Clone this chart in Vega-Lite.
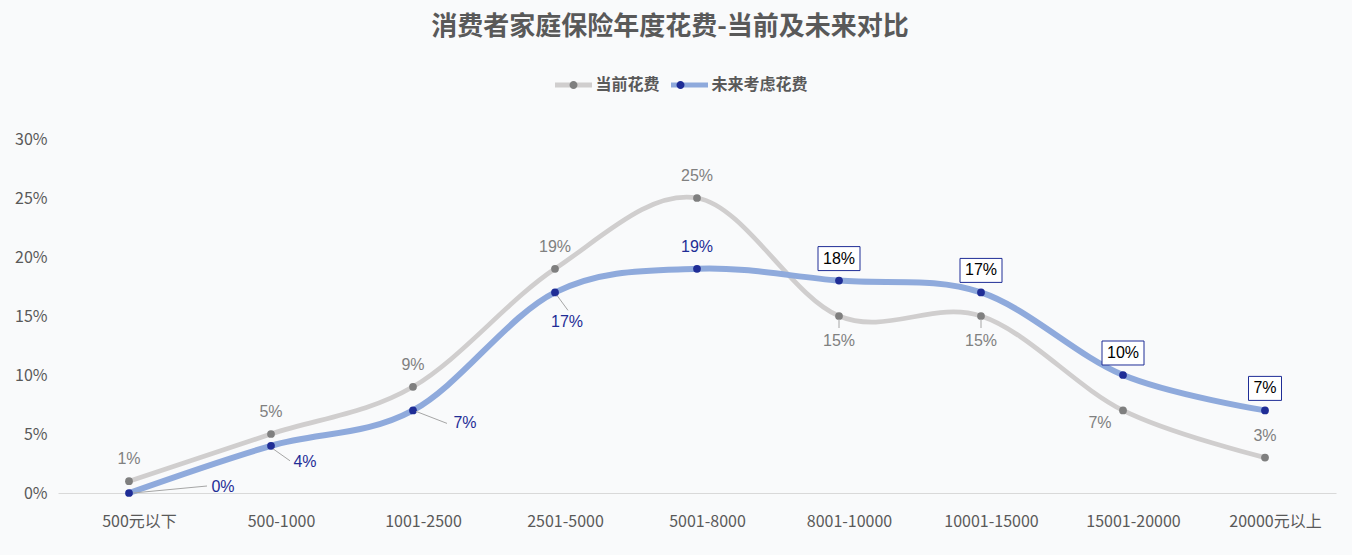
{
  "$schema": "https://vega.github.io/schema/vega-lite/v6.json",
  "width": 1278,
  "height": 354,
  "autosize": {"type": "none"},
  "padding": {"left": 58, "top": 139, "right": 16, "bottom": 62},
  "background": "#f9fafb",
  "title": {
    "text": "消费者家庭保险年度花费-当前及未来对比",
    "font": "Noto Sans CJK SC",
    "fontSize": 26,
    "fontWeight": "bold",
    "color": "#595959",
    "anchor": "middle",
    "dx": -27,
    "offset": 24
  },
  "config": {"view": {"stroke": null}, "font": "Noto Sans CJK SC"},
  "data": {
    "values": [
      {"cat": "500元以下", "series": "当前花费", "value": 0.01},
      {"cat": "500元以下", "series": "未来考虑花费", "value": 0.0},
      {"cat": "500-1000", "series": "当前花费", "value": 0.05},
      {"cat": "500-1000", "series": "未来考虑花费", "value": 0.04},
      {"cat": "1001-2500", "series": "当前花费", "value": 0.09},
      {"cat": "1001-2500", "series": "未来考虑花费", "value": 0.07},
      {"cat": "2501-5000", "series": "当前花费", "value": 0.19},
      {"cat": "2501-5000", "series": "未来考虑花费", "value": 0.17},
      {"cat": "5001-8000", "series": "当前花费", "value": 0.25},
      {"cat": "5001-8000", "series": "未来考虑花费", "value": 0.19},
      {"cat": "8001-10000", "series": "当前花费", "value": 0.15},
      {"cat": "8001-10000", "series": "未来考虑花费", "value": 0.18},
      {"cat": "10001-15000", "series": "当前花费", "value": 0.15},
      {"cat": "10001-15000", "series": "未来考虑花费", "value": 0.17},
      {"cat": "15001-20000", "series": "当前花费", "value": 0.07},
      {"cat": "15001-20000", "series": "未来考虑花费", "value": 0.10},
      {"cat": "20000元以上", "series": "当前花费", "value": 0.03},
      {"cat": "20000元以上", "series": "未来考虑花费", "value": 0.07}
    ]
  },
  "encoding": {
    "x": {
      "field": "cat",
      "type": "ordinal",
      "sort": null,
      "scale": {"type": "point", "padding": 0.5},
      "axis": {
        "title": null,
        "labelAngle": 0,
        "domainColor": "#d9d9d9",
        "domainWidth": 1,
        "ticks": false,
        "grid": false,
        "labelFontSize": 16,
        "labelColor": "#595959",
        "labelPadding": 20,
        "labelOffset": 10,
        "labelFont": "Noto Sans CJK SC"
      }
    },
    "y": {
      "field": "value",
      "type": "quantitative",
      "scale": {"domain": [0, 0.3], "nice": false},
      "axis": {
        "title": null,
        "values": [0, 0.05, 0.1, 0.15, 0.2, 0.25, 0.3],
        "format": ".0%",
        "domain": false,
        "ticks": false,
        "grid": false,
        "labelFontSize": 16,
        "labelColor": "#595959",
        "labelPadding": 11,
        "labelFont": "Noto Sans CJK SC"
      }
    }
  },
  "layer": [
    {
      "transform": [{"filter": {"field": "series", "equal": "当前花费"}}],
      "mark": {"type": "line", "interpolate": "cardinal", "strokeWidth": 4.7},
      "encoding": {
        "stroke": {
          "field": "series",
          "type": "nominal",
          "scale": {"range": ["#d0cece", "#8faadc"]},
          "legend": {
            "orient": "none",
            "legendX": 494.5,
            "legendY": -75,
            "direction": "horizontal",
            "title": null,
            "symbolType": "stroke",
            "symbolSize": 1369,
            "symbolStrokeWidth": 5,
            "labelFontSize": 16,
            "labelFontWeight": "bold",
            "labelColor": "#595959",
            "labelFont": "Noto Sans CJK SC",
            "labelOffset": 1,
            "columnPadding": 0
          }
        }
      }
    },
    {
      "transform": [{"filter": {"field": "series", "equal": "未来考虑花费"}}],
      "mark": {"type": "line", "interpolate": "cardinal", "strokeWidth": 6},
      "encoding": {
        "stroke": {"field": "series", "type": "nominal"}
      }
    },
    {
      "mark": {"type": "point", "filled": true, "size": 60, "opacity": 1},
      "encoding": {
        "fill": {
          "field": "series",
          "type": "nominal",
          "scale": {"domain": ["当前花费", "未来考虑花费"], "range": ["#7f7f7f", "#1f2d96"]},
          "legend": {
            "orient": "none",
            "legendX": 494.5,
            "legendY": -75,
            "direction": "horizontal",
            "title": null,
            "symbolType": "M-0.216,0 A0.216,0.216 0 1,1 0.216,0 A0.216,0.216 0 1,1 -0.216,0 Z",
            "symbolSize": 1369,
            "symbolStrokeWidth": 5,
            "symbolStrokeColor": "transparent",
            "labelExpr": "''",
            "labelFontSize": 16,
            "labelFontWeight": "bold",
            "labelColor": "#595959",
            "labelFont": "Noto Sans CJK SC",
            "labelOffset": 1,
            "columnPadding": 64
          }
        }
      }
    },
    {
      "transform": [{"filter": {"and": [{"field": "series", "equal": "当前花费"}, {"field": "cat", "oneOf": ["500元以下", "500-1000", "1001-2500", "2501-5000", "5001-8000", "20000元以上"]}]}}],
      "mark": {"type": "text", "dy": -22, "baseline": "middle", "align": "center", "font": "Liberation Sans", "fontSize": 16, "color": "#808080"},
      "encoding": {"text": {"field": "value", "format": ".0%"}}
    },
    {
      "transform": [{"filter": {"and": [{"field": "series", "equal": "当前花费"}, {"field": "cat", "oneOf": ["8001-10000", "10001-15000"]}]}}],
      "mark": {"type": "text", "dy": 25, "baseline": "middle", "align": "center", "font": "Liberation Sans", "fontSize": 16, "color": "#808080"},
      "encoding": {"text": {"field": "value", "format": ".0%"}}
    },
    {
      "transform": [{"filter": {"and": [{"field": "series", "equal": "当前花费"}, {"field": "cat", "oneOf": ["8001-10000", "10001-15000"]}]}}],
      "mark": {"type": "rule", "color": "#a6a6a6", "strokeWidth": 1, "yOffset": 4, "y2Offset": 12},
      "encoding": {"x2": {"field": "cat"}, "y2": {"field": "value"}}
    },
    {
      "transform": [{"filter": {"and": [{"field": "series", "equal": "当前花费"}, {"field": "cat", "equal": "15001-20000"}]}}],
      "mark": {"type": "text", "dx": -23, "dy": 13, "baseline": "middle", "align": "center", "font": "Liberation Sans", "fontSize": 16, "color": "#808080"},
      "encoding": {"text": {"field": "value", "format": ".0%"}}
    },
    {
      "transform": [{"filter": {"and": [{"field": "series", "equal": "未来考虑花费"}, {"field": "cat", "equal": "5001-8000"}]}}],
      "mark": {"type": "text", "dy": -22, "baseline": "middle", "align": "center", "font": "Liberation Sans", "fontSize": 16, "color": "#1f2d96"},
      "encoding": {"text": {"field": "value", "format": ".0%"}}
    },
    {
      "transform": [{"filter": {"and": [{"field": "series", "equal": "未来考虑花费"}, {"field": "cat", "equal": "500元以下"}]}}],
      "mark": {"type": "rule", "color": "#a6a6a6", "strokeWidth": 1, "xOffset": 4, "x2Offset": 78, "yOffset": 0, "y2Offset": -7},
      "encoding": {"x2": {"field": "cat"}, "y2": {"field": "value"}}
    },
    {
      "transform": [{"filter": {"and": [{"field": "series", "equal": "未来考虑花费"}, {"field": "cat", "equal": "500元以下"}]}}],
      "mark": {"type": "text", "dx": 94, "dy": -6, "baseline": "middle", "align": "center", "font": "Liberation Sans", "fontSize": 16, "color": "#1f2d96"},
      "encoding": {"text": {"field": "value", "format": ".0%"}}
    },
    {
      "transform": [{"filter": {"and": [{"field": "series", "equal": "未来考虑花费"}, {"field": "cat", "equal": "500-1000"}]}}],
      "mark": {"type": "rule", "color": "#a6a6a6", "strokeWidth": 1, "xOffset": 2, "x2Offset": 19, "yOffset": 3, "y2Offset": 15},
      "encoding": {"x2": {"field": "cat"}, "y2": {"field": "value"}}
    },
    {
      "transform": [{"filter": {"and": [{"field": "series", "equal": "未来考虑花费"}, {"field": "cat", "equal": "500-1000"}]}}],
      "mark": {"type": "text", "dx": 34, "dy": 16, "baseline": "middle", "align": "center", "font": "Liberation Sans", "fontSize": 16, "color": "#1f2d96"},
      "encoding": {"text": {"field": "value", "format": ".0%"}}
    },
    {
      "transform": [{"filter": {"and": [{"field": "series", "equal": "未来考虑花费"}, {"field": "cat", "equal": "1001-2500"}]}}],
      "mark": {"type": "rule", "color": "#a6a6a6", "strokeWidth": 1, "xOffset": 3, "x2Offset": 34, "yOffset": 1, "y2Offset": 13},
      "encoding": {"x2": {"field": "cat"}, "y2": {"field": "value"}}
    },
    {
      "transform": [{"filter": {"and": [{"field": "series", "equal": "未来考虑花费"}, {"field": "cat", "equal": "1001-2500"}]}}],
      "mark": {"type": "text", "dx": 52, "dy": 13, "baseline": "middle", "align": "center", "font": "Liberation Sans", "fontSize": 16, "color": "#1f2d96"},
      "encoding": {"text": {"field": "value", "format": ".0%"}}
    },
    {
      "transform": [{"filter": {"and": [{"field": "series", "equal": "未来考虑花费"}, {"field": "cat", "equal": "2501-5000"}]}}],
      "mark": {"type": "rule", "color": "#a6a6a6", "strokeWidth": 1, "xOffset": 2, "x2Offset": 13, "yOffset": 3, "y2Offset": 18},
      "encoding": {"x2": {"field": "cat"}, "y2": {"field": "value"}}
    },
    {
      "transform": [{"filter": {"and": [{"field": "series", "equal": "未来考虑花费"}, {"field": "cat", "equal": "2501-5000"}]}}],
      "mark": {"type": "text", "dx": 12, "dy": 30, "baseline": "middle", "align": "center", "font": "Liberation Sans", "fontSize": 16, "color": "#1f2d96"},
      "encoding": {"text": {"field": "value", "format": ".0%"}}
    },
    {
      "transform": [{"filter": {"and": [{"field": "series", "equal": "未来考虑花费"}, {"field": "cat", "oneOf": ["8001-10000", "10001-15000", "15001-20000"]}]}}],
      "mark": {"type": "point", "shape": "M-1,-0.571 H1 V0.571 H-1 Z", "size": 1764, "filled": false, "fill": "#ffffff", "fillOpacity": 1, "stroke": "#1f2d96", "strokeWidth": 1, "opacity": 1, "yOffset": -22}
    },
    {
      "transform": [{"filter": {"and": [{"field": "series", "equal": "未来考虑花费"}, {"field": "cat", "equal": "20000元以上"}]}}],
      "mark": {"type": "point", "shape": "M-1,-0.727 H1 V0.727 H-1 Z", "size": 1089, "filled": false, "fill": "#ffffff", "fillOpacity": 1, "stroke": "#1f2d96", "strokeWidth": 1, "opacity": 1, "yOffset": -22}
    },
    {
      "transform": [{"filter": {"and": [{"field": "series", "equal": "未来考虑花费"}, {"field": "cat", "oneOf": ["8001-10000", "10001-15000", "15001-20000", "20000元以上"]}]}}],
      "mark": {"type": "text", "dy": -22, "baseline": "middle", "align": "center", "font": "Liberation Sans", "fontSize": 16, "color": "#000000"},
      "encoding": {"text": {"field": "value", "format": ".0%"}}
    }
  ]
}
